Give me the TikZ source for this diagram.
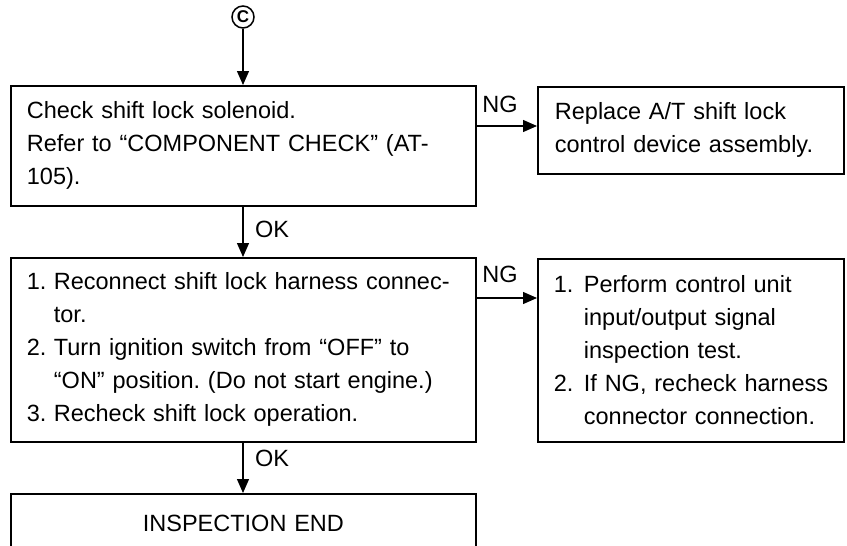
\documentclass[tikz,border=0pt]{standalone}
\usepackage{fontspec}
\setmainfont{Liberation Sans}
\frenchspacing
\usetikzlibrary{arrows.meta}
\tikzset{
  box/.style={draw, line width=1.8pt, anchor=north west, align=left, inner xsep=16pt, inner ysep=0pt, font=\fontsize{23.5}{33}\selectfont},
  flow/.style={line width=1.3pt, -{Triangle[length=14pt,width=12pt]}},
  lbl/.style={font=\fontsize{23.5}{23.5}\selectfont, inner sep=0pt}
}
\newcommand\numitem[1]{\hspace*{8pt}\makebox[30pt][l]{#1}}
\newcommand\contline{\hspace*{38pt}}
\begin{document}
\begin{tikzpicture}[x=1pt,y=-1pt]
\useasboundingbox (0,0) rectangle (847,546);
\clip (0,0) rectangle (847,546);
\node[circle, draw, line width=1.5pt, inner sep=0pt, minimum size=22pt, font=\fontsize{17}{17}\selectfont\bfseries] (c) at (243,17) {C};
\node[box, text width=433pt, minimum height=120pt] (b1) at (10,85)
  {Check shift lock solenoid.\\Refer to “COMPONENT CHECK” (AT-\\105).};
\node[box, text width=272pt, inner xsep=17pt, minimum height=87pt] (b2) at (537,86)
  {Replace A/T shift lock\\control device assembly.};
\node[box, text width=433pt, minimum height=184pt] (b3) at (10,257)
  {\makebox[27pt][l]{1.}Reconnect shift lock harness connec-\\
   \hspace*{27pt}tor.\\
   \makebox[27pt][l]{2.}Turn ignition switch from “OFF” to\\
   \hspace*{27pt}“ON” position. (Do not start engine.)\\
   \makebox[27pt][l]{3.}Recheck shift lock operation.};
\node[box, text width=290pt, inner xsep=8pt, minimum height=183pt] (b4) at (537,258)
  {\numitem{1.}Perform control unit\\
   \contline input/output signal\\
   \contline inspection test.\\
   \numitem{2.}If NG, recheck harness\\
   \contline connector connection.};
\node[box, text width=433pt, align=center, minimum height=60pt] (b5) at (10,493)
  {INSPECTION END};
\draw[flow] (c.south) -- (c.south |- b1.north);
\draw[flow] (c |- b1.south) -- (c |- b3.north);
\draw[flow] (c |- b3.south) -- (c |- b5.north);
\draw[flow] (b1.east |- 0,126) -- (b2.west |- 0,126);
\draw[flow] (b3.east |- 0,298) -- (b4.west |- 0,298);
\node[lbl, anchor=west] (ok1) at (255,229) {OK};
\node[lbl, anchor=west] (ok2) at (255,458) {OK};
\node[lbl] (ng1) at (500,104) {NG};
\node[lbl] (ng2) at (500,274) {NG};
\end{tikzpicture}
\end{document}
